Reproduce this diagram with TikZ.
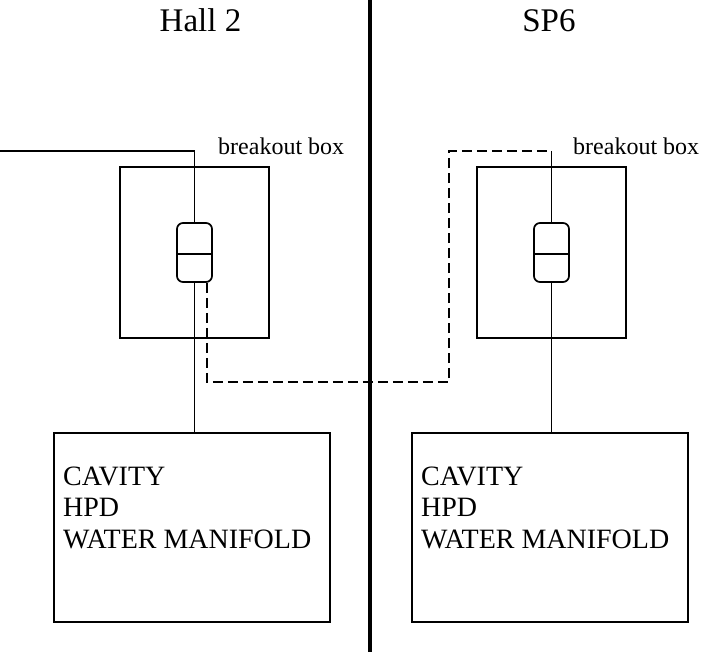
\documentclass[tikz,border=0pt]{standalone}
\usepackage{fontspec}
\setmainfont{Liberation Serif}
\usepackage{tikz}
\usetikzlibrary{positioning,calc}

\begin{document}
\begin{tikzpicture}[
  x=1pt, y=-1pt,
  wire/.style={line width=1.4pt},
  dashwire/.style={line width=1.4pt,dash pattern=on 10pt off 5pt},
  wall/.style={line width=4pt},
  bbox/.style={draw,line width=1.4pt,minimum width=149pt,minimum height=171pt,inner sep=0pt},
  cavbox/.style={draw,line width=1.4pt,minimum width=276pt,minimum height=189pt,inner sep=0pt},
  plug/.style={draw,line width=1.7pt,rounded corners=6pt,minimum width=35pt,minimum height=59pt,inner sep=0pt},
  hall/.style={font=\fontsize{33}{36}\selectfont,inner sep=0pt,anchor=base},
  boxlab/.style={font=\fontsize{24}{27}\selectfont,inner sep=0pt,anchor=base west},
  cavtxt/.style={font=\fontsize{28}{31.5}\selectfont,inner sep=0pt,anchor=base west,align=left},
]
\useasboundingbox (0,0) rectangle (705,652);

% =========== the wall between the two areas ============
\coordinate (wallT) at (369.5,0);
\coordinate (wallB) at (369.5,652);
\draw[wall] (wallT) -- (wallB);
\node[hall] (hallL) at (200.5,32) {Hall 2};
\node[hall] (hallR) at (549,32) {SP6};

% =========== Hall 2 side ============
\node[bbox] (bbL) at (194.5,252.5) {};
\node[boxlab] (bbLlab) at (218,155) {breakout box};
\node[plug] (conL) at (194.5,252.5) {};
\draw[wire] (conL.west |- 0,254) -- (conL.east |- 0,254);
\node[cavbox] (cavL) at (192,527.5) {};
\node[cavtxt] (cavLtxt) at (63,548) {CAVITY\\HPD\\WATER MANIFOLD};
\coordinate (feedL) at (0,151);
\draw[wire] (feedL) -| (conL.north);
\draw[wire] (conL.south) -- (conL.south |- cavL.north);

% =========== SP6 side ============
\node[bbox] (bbR) at (551.5,252.5) {};
\node[boxlab] (bbRlab) at (573,155) {breakout box};
\node[plug] (conR) at (551.5,252.5) {};
\draw[wire] (conR.west |- 0,254) -- (conR.east |- 0,254);
\node[cavbox] (cavR) at (550,527.5) {};
\node[cavtxt] (cavRtxt) at (421,548) {CAVITY\\HPD\\WATER MANIFOLD};
\draw[wire] (conR.south) -- (conR.south |- cavR.north);

% =========== cable through the wall ============
\coordinate (loopB) at (449,382);
\coordinate (loopT) at (551.5,151);
\draw[dashwire] ([xshift=12.5pt]conL.south) |- (loopB) |- (loopT);
\draw[wire] (loopT) -- (conR.north);

\end{tikzpicture}
\end{document}
